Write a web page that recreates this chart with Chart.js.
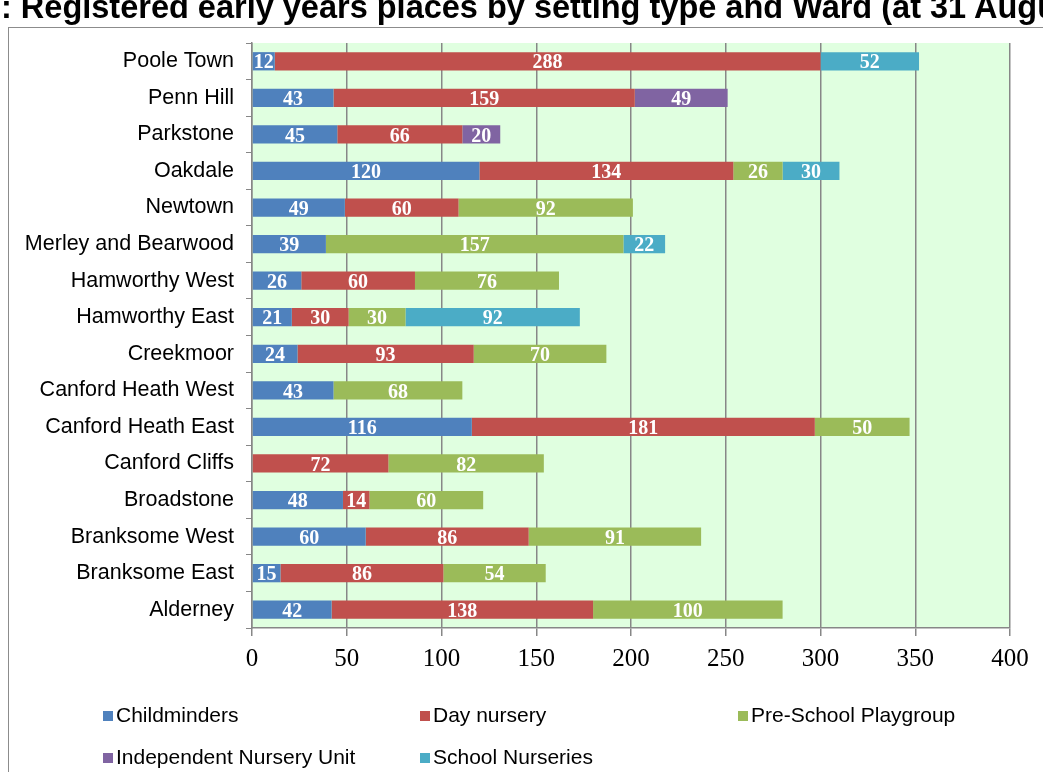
<!DOCTYPE html>
<html>
<head>
<meta charset="utf-8">
<script src="https://cdn.jsdelivr.net/npm/chart.js@4.4.1/dist/chart.umd.min.js"></script>
<style>
  body { margin: 0; background: #fff; overflow: hidden; }
  #wrap { position: relative; width: 1043px; height: 772px; overflow: hidden; }
  #title {
    position: absolute; left: 1px; top: -11px; white-space: nowrap;
    font: bold 32.5px "Liberation Sans", Arial, sans-serif; color: #000;
  }
  canvas { position: absolute; left: 0; top: 0; }
</style>
</head>
<body>
<div id="wrap">
  <canvas id="chart" width="1043" height="772"></canvas>
  <div id="title">: Registered early years places by setting type and Ward (at 31 August</div>
</div>
<script>
// ─── Data ──────────────────────────────────────────────────────
const wards = ['Poole Town','Penn Hill','Parkstone','Oakdale','Newtown','Merley and Bearwood',
    'Hamworthy West','Hamworthy East','Creekmoor','Canford Heath West','Canford Heath East',
    'Canford Cliffs','Broadstone','Branksome West','Branksome East','Alderney'];
const childminders   = [12, 43, 45, 120, 49, 39, 26, 21, 24, 43, 116, null, 48, 60, 15, 42];
const dayNursery     = [288, 159, 66, 134, 60, null, 60, 30, 93, null, 181, 72, 14, 86, 86, 138];
const preSchool      = [null, null, null, 26, 92, 157, 76, 30, 70, 68, 50, 82, 60, 91, 54, 100];
const independentNU  = [null, 49, 20, null, null, null, null, null, null, null, null, null, null, null, null, null];
const schoolNurs     = [52, null, null, 30, null, 22, null, 92, null, null, null, null, null, null, null, null];
const xTicks = [0, 50, 100, 150, 200, 250, 300, 350, 400];

const SERIES = [
    { label: 'Childminders', data: childminders, color: '#4F81BD' },
    { label: 'Day nursery', data: dayNursery, color: '#C0504D' },
    { label: 'Pre-School Playgroup', data: preSchool, color: '#9BBB59' },
    { label: 'Independent Nursery Unit', data: independentNU, color: '#8064A2' },
    { label: 'School Nurseries', data: schoolNurs, color: '#4BACC6' }
];

const SANS = '"Liberation Sans", Arial, sans-serif';
const SERIF = '"Liberation Serif", "Times New Roman", serif';

// ─── Plugins ───────────────────────────────────────────────────
const frame = {
    id: 'frame',
    beforeDraw(chart) {
        const { ctx, chartArea: a } = chart;
        ctx.save();
        ctx.strokeStyle = '#8c8c8c';
        ctx.lineWidth = 1;
        ctx.strokeRect(8.5, 27.5, 1200, 900);
        ctx.fillStyle = '#E0FFE0';
        ctx.fillRect(a.left, a.top, a.right - a.left, a.bottom - a.top);
        ctx.restore();
    }
};

const barLabels = {
    id: 'barLabels',
    afterDatasetsDraw(chart) {
        const ctx = chart.ctx;
        ctx.save();
        ctx.font = 'bold 20px ' + SERIF;
        ctx.fillStyle = '#fff';
        ctx.textAlign = 'center';
        ctx.textBaseline = 'middle';
        chart.data.datasets.forEach((ds, i) => {
            chart.getDatasetMeta(i).data.forEach((el, j) => {
                const v = ds.data[j];
                if (v == null) return;
                const p = el.getProps(['x', 'y', 'base'], true);
                ctx.fillText(String(v), (p.x + p.base) / 2, p.y + 2);
            });
        });
        ctx.restore();
    }
};

const gridLegend = {
    id: 'gridLegend',
    afterDraw(chart) {
        const ctx = chart.ctx;
        const cols = [103, 420, 738], rows = [716, 758];
        ctx.save();
        ctx.font = '21px ' + SANS;
        ctx.textBaseline = 'middle';
        chart.data.datasets.forEach((ds, i) => {
            const x = cols[i % 3], y = rows[Math.floor(i / 3)];
            ctx.fillStyle = ds.backgroundColor;
            ctx.fillRect(x, y - 5, 10, 10);
            ctx.fillStyle = '#000';
            ctx.fillText(ds.label, x + 13, y);
        });
        ctx.restore();
    }
};

// ─── Chart ─────────────────────────────────────────────────────
new Chart(document.getElementById('chart'), {
    type: 'bar',
    data: {
        labels: wards,
        datasets: SERIES.map(s => ({
            label: s.label,
            data: s.data,
            backgroundColor: s.color,
            borderWidth: 0,
            categoryPercentage: 1,
            barPercentage: 0.5
        }))
    },
    options: {
        indexAxis: 'y',
        responsive: false,
        animation: false,
        layout: { padding: { top: 43, right: 33, left: 0, bottom: 0 } },
        plugins: { legend: { display: false }, tooltip: { enabled: false } },
        scales: {
            x: {
                stacked: true,
                min: 0, max: 400,
                afterBuildTicks: sc => { sc.ticks = xTicks.map(v => ({ value: v })); },
                afterFit: sc => { sc.height = 144; },
                grid: { color: '#878787', lineWidth: 1.5, tickLength: 8 },
                border: { color: '#878787', width: 1.5 },
                ticks: { color: '#000', font: { family: SERIF, size: 25 }, padding: 8 }
            },
            y: {
                stacked: true,
                afterFit: sc => { sc.width = 252; },
                grid: { drawOnChartArea: false, color: '#878787', tickLength: 6, offset: true },
                border: { color: '#878787', width: 1.5 },
                ticks: { color: '#000', font: { family: SANS, size: 21.5 }, padding: 12 }
            }
        }
    },
    plugins: [frame, barLabels, gridLegend]
});
</script>
</body>
</html>
